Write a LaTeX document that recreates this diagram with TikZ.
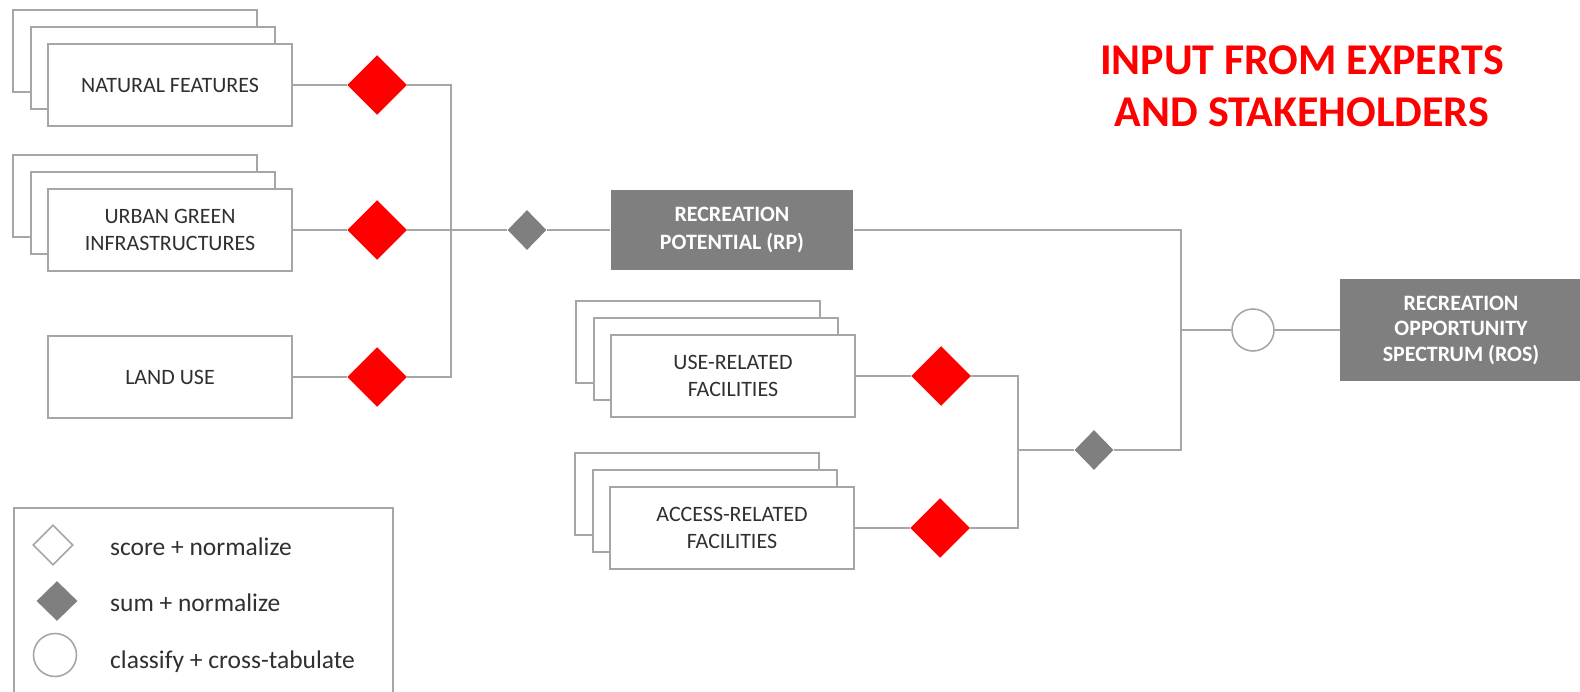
\documentclass[tikz,border=0pt]{standalone}
\usepackage{fontspec}
\setmainfont{Carlito}
\usepackage{tikz}
\usetikzlibrary{shapes,positioning,calc}

\definecolor{linegray}{HTML}{A6A6A6}
\definecolor{boxgray}{HTML}{7F7F7F}
\definecolor{txtgray}{HTML}{303030}

\begin{document}
\begin{tikzpicture}[x=0.02cm, y=-0.02cm,
        box/.style={draw=linegray, line width=0.9pt, rectangle, fill=white, minimum width=4.88cm, minimum height=1.64cm, align=center, text=txtgray, font=\fontsize{12.5}{15.5}\selectfont},
        result/.style={rectangle, fill=boxgray, minimum width=4.86cm, minimum height=1.6cm, align=center, text=white, font=\bfseries\fontsize{12.5}{15.5}\selectfont},
        score/.style={diamond, fill=red, inner sep=0pt, minimum width=1.2cm, minimum height=1.2cm},
        summ/.style={diamond, fill=boxgray, inner sep=0pt, minimum width=0.78cm, minimum height=0.8cm},
        classify/.style={circle, draw=linegray, line width=0.9pt, fill=white, inner sep=0pt, minimum size=0.84cm},
        link/.style={draw=linegray, line width=0.9pt},
        keytext/.style={anchor=west, text=txtgray, text height=1.6ex, text depth=0.4ex, font=\fontsize{14.5}{17}\selectfont}
    ]
    \useasboundingbox (0,0) rectangle (1580,692);

    % layers lying behind the input boxes
    \foreach \x/\y in {170/85, 170/230, 733/376, 732/528} {
        \node [box] at (\x-35,\y-34) {};
        \node [box] at (\x-17,\y-17) {};
    }

    \node [box] (nat) at (170,85) {NATURAL FEATURES};
    \node [box] (ugi) at (170,230) {URBAN GREEN\\INFRASTRUCTURES};
    \node [box] (lu) at (170,377) {LAND USE};
    \node [score, right=1.08cm of nat] (snat) {};
    \node [score, right=1.08cm of ugi] (sugi) {};
    \node [score, right=1.08cm of lu] (slu) {};
    \coordinate (j1) at (451,230);
    \node [summ] (srp) at (527,230) {};
    \node [result] (rp) at (732,230) {RECREATION\\POTENTIAL (RP)};

    \node [box] (use) at (733,376) {USE-RELATED\\FACILITIES};
    \node [box] (acc) at (732,528) {ACCESS-RELATED\\FACILITIES};
    \node [score, right=1.1cm of use] (suse) {};
    \node [score, right=1.1cm of acc] (sacc) {};
    \coordinate (j2) at (1018,450);
    \node [summ] (sfac) at (1094,450) {};

    \coordinate (j3) at (1181,330);
    \node [classify] (cros) at (1253,330) {};
    \node [result, minimum width=4.84cm, minimum height=2.04cm, font=\bfseries\fontsize{12.5}{14.5}\selectfont] (ros) at (1461,330) {RECREATION\\OPPORTUNITY\\SPECTRUM (ROS)};

    \node [text=red, align=center, font=\bfseries\fontsize{25}{29.6}\selectfont] (title) at (1302,86) {INPUT FROM EXPERTS\\AND STAKEHOLDERS};

    \draw [link] (nat) -- (snat);
    \draw [link] (ugi) -- (sugi);
    \draw [link] (lu) -- (slu);
    \draw [link] (snat.east) -| (j1);
    \draw [link] (slu.east) -| (j1);
    \draw [link] (sugi) -- (srp);
    \draw [link] (srp) -- (rp);

    \draw [link] (use) -- (suse);
    \draw [link] (acc) -- (sacc);
    \draw [link] (suse.east) -| (j2);
    \draw [link] (sacc.east) -| (j2);
    \draw [link] (j2) -- (sfac);

    \draw [link] (rp.east) -| (j3) |- (sfac.east);
    \draw [link] (j3) -- (cros) -- (ros);

    % legend
    \draw [link] (14,720) -- (14,508) -- (393,508) -- (393,720);
    \node [diamond, draw=linegray, line width=0.9pt, fill=white, inner sep=0pt, minimum size=0.8cm] (kscore) at (53,545) {};
    \node [summ, minimum width=0.82cm] (ksum) at (57,601) {};
    \node [classify, minimum size=0.86cm] (kclass) at (55,655) {};
    \node [keytext] (tscore) at (104,550) {score + normalize};
    \node [keytext] (tsum) at (104,606) {sum + normalize};
    \node [keytext] (tclass) at (104,663) {classify + cross-tabulate};
\end{tikzpicture}
\end{document}
